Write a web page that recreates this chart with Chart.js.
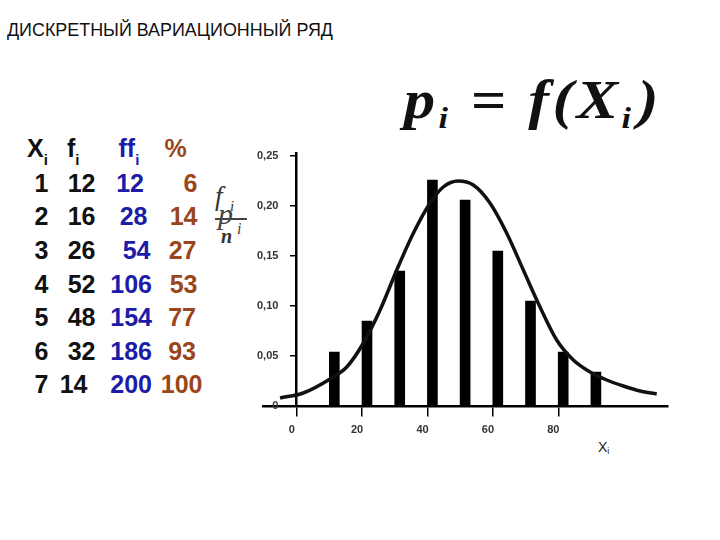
<!DOCTYPE html>
<html>
<head>
<meta charset="utf-8">
<script src="https://cdn.jsdelivr.net/npm/chart.js"></script>
<style>
html, body { margin: 0; padding: 0; background: #fff; }
body { width: 720px; height: 540px; position: relative; overflow: hidden; font-family: "Liberation Sans", Arial, sans-serif; }
.t { position: absolute; line-height: 1; white-space: nowrap; }
.cell { position: absolute; line-height: 1; white-space: nowrap; font-size: 25px; font-weight: bold; transform: translateX(-100%); }
.serif { font-family: "Liberation Serif", "Times New Roman", serif; font-style: italic; }
#chart { position: absolute; left: 0; top: 0; }
</style>
</head>
<body>

<div class="t" id="title" style="left:7px;top:19.8px;font-size:19px;color:#111;transform-origin:0 0;">ДИСКРЕТНЫЙ ВАРИАЦИОННЫЙ РЯД</div>

<div class="t serif" id="formula" style="left:404px;top:72px;font-size:55px;font-weight:bold;color:#111;letter-spacing:3px;transform-origin:0 0;">p<span style="font-size:0.55em;position:relative;top:0.32em;">i</span> = f(X<span style="font-size:0.55em;position:relative;top:0.32em;letter-spacing:6px;">i</span>)</div>

<!-- f_i / n with p_i overlapped -->
<div class="t serif" style="left:215px;top:183px;font-size:27px;color:#333;">f</div>
<div class="t serif" style="left:230px;top:199px;font-size:15px;color:#333;">i</div>
<div style="position:absolute;left:215px;top:218px;width:32px;height:1.5px;background:#444;"></div>
<div class="t serif" style="left:218px;top:199px;font-size:30px;color:#444;">p</div>
<div class="t serif" style="left:221px;top:226px;font-size:20px;font-weight:bold;color:#333;">n</div>
<div class="t serif" style="left:237px;top:221px;font-size:16px;color:#444;">i</div>

<div id="table"></div>

<div class="t" style="left:598px;top:440px;font-size:14px;color:#222;">X<span style="font-size:9px;position:relative;top:2px;">i</span></div>

<canvas id="chart" width="720" height="540"></canvas>

<script>
// table of the discrete series
const xi  = [1, 2, 3, 4, 5, 6, 7];
const fi  = [12, 16, 26, 52, 48, 32, 14];
const ffi = [12, 28, 54, 106, 154, 186, 200];
const pct = [6, 14, 27, 53, 77, 93, 100];

// chart: bars p_i at X_i, and the smooth curve f(X)
const barX = [11.5, 21.5, 31.5, 41.5, 51.5, 61.5, 71.5, 81.5, 91.5];
const barP = [0.054, 0.085, 0.135, 0.226, 0.206, 0.155, 0.105, 0.054, 0.034];
const curveX = [-5.1, 2.0, 10.2, 15.3, 20.4, 25.5, 30.6, 35.7, 40.8, 44.8, 49.4, 54.0, 59.1, 64.2, 69.3, 74.4, 79.5, 84.6, 89.7, 94.8, 99.9, 105.0, 110.1];
const curveP = [0.008, 0.013, 0.027, 0.039, 0.063, 0.096, 0.136, 0.173, 0.203, 0.219, 0.225, 0.221, 0.203, 0.173, 0.136, 0.099, 0.066, 0.046, 0.034, 0.026, 0.020, 0.015, 0.012];
const xTicks = [0, 20, 40, 60, 80];
const yTicks = [0, 0.05, 0.10, 0.15, 0.20, 0.25];

// text fitting
function fitWidth(id, w) {
  const el = document.getElementById(id);
  const r = el.getBoundingClientRect().width;
  el.style.transform = 'scaleX(' + (w / r) + ')';
}
fitWidth('title', 326);
fitWidth('formula', 258);

// table layout
const black = '#111', blue = '#1c1ca8', brown = '#99461c';
const rowBase = [192, 225.5, 259, 292.7, 326.2, 359.8, 393.3];
const col1 = [48.5, 48.5, 48.5, 48.5, 48.5, 48.5, 48.5];
const col2 = [95.5, 95.5, 95.5, 95.5, 95.5, 95.5, 87.5];
const col3 = [144, 147.5, 150.5, 152, 152, 152, 152];
const col4 = [197.5, 197.5, 196.5, 197.5, 196, 196, 202.5];

const tbl = document.getElementById('table');
function cell(text, right, base, color) {
  const d = document.createElement('div');
  d.className = 'cell';
  d.textContent = text;
  d.style.left = right + 'px';
  d.style.top = (base - 21.2) + 'px';
  d.style.color = color;
  tbl.appendChild(d);
}
xi.forEach((v, i) => {
  cell(String(v), col1[i], rowBase[i], black);
  cell(String(fi[i]), col2[i], rowBase[i], black);
  cell(String(ffi[i]), col3[i], rowBase[i], blue);
  cell(String(pct[i]), col4[i], rowBase[i], brown);
});
const head = [['X', 27, black, true], ['f', 67, black, true], ['ff', 118.5, blue, true], ['%', 164.5, brown, false]];
head.forEach(h => {
  const d = document.createElement('div');
  d.className = 't';
  d.style.cssText += 'left:' + h[1] + 'px;top:' + (157.5 - 21.2) + 'px;font-size:25px;font-weight:bold;color:' + h[2] + ';';
  d.innerHTML = h[0] + (h[3] ? '<span style="font-size:15px;position:relative;top:8px;">i</span>' : '');
  tbl.appendChild(d);
});

const tickFont = { family: 'Liberation Sans', size: 11, weight: 'bold' };

const myChart = new Chart(document.getElementById('chart'), {
  type: 'bar',
  data: {
    datasets: [
      {
        type: 'line',
        data: curveX.map((x, i) => ({ x: x, y: curveP[i] })),
        borderColor: '#111',
        borderWidth: 3.5,
        pointRadius: 0,
        tension: 0.4,
        cubicInterpolationMode: 'monotone',
        fill: false,
        order: 1
      },
      {
        type: 'bar',
        data: barX.map((x, i) => ({ x: x, y: barP[i] })),
        backgroundColor: '#000',
        borderWidth: 0,
        barThickness: 10,
        order: 2
      }
    ]
  },
  options: {
    responsive: false,
    devicePixelRatio: 1,
    animation: false,
    layout: { padding: { left: 263, right: 52, top: 153.5, bottom: 134 } },
    plugins: { legend: { display: false }, tooltip: { enabled: false } },
    scales: {
      x: {
        type: 'linear',
        axis: 'x',
        position: { y: 0 },
        min: -10.31,
        max: 113.55,
        offset: false,
        afterBuildTicks: s => { s.ticks = xTicks.map(v => ({ value: v })); },
        grid: { drawOnChartArea: false, drawTicks: true, tickLength: 9, color: '#000', lineWidth: 1.5, offset: false },
        border: { display: true, color: '#000', width: 2.5 },
        ticks: { padding: 8, labelOffset: -5, color: '#333', font: tickFont, maxRotation: 0, autoSkip: false }
      },
      y: {
        type: 'linear',
        axis: 'y',
        position: { x: 0 },
        min: 0,
        max: 0.2525,
        afterBuildTicks: s => { s.ticks = yTicks.map(v => ({ value: v })); },
        grid: { drawOnChartArea: false, drawTicks: true, tickLength: 5, color: '#000', lineWidth: 1.5 },
        border: { display: true, color: '#000', width: 2.5 },
        ticks: {
          color: '#333',
          font: tickFont,
          // a y axis placed at x = 0 ignores ticks.padding, so the gap is kept with trailing spaces
          callback: v => (v === 0 ? '0' : v.toFixed(2).replace('.', ',')) + '      '
        }
      }
    }
  }
});
</script>
</body>
</html>
